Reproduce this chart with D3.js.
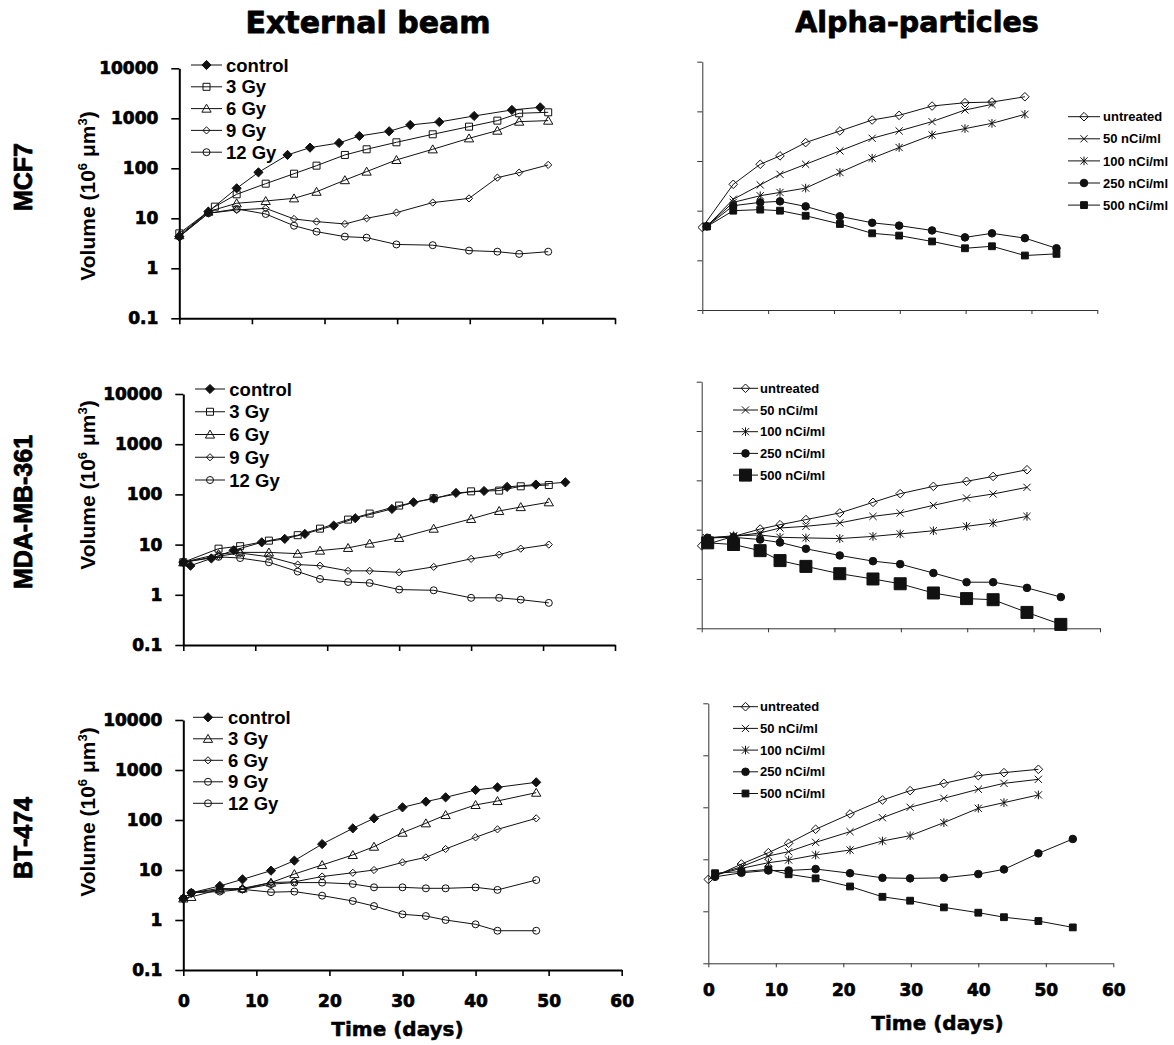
<!DOCTYPE html>
<html><head><meta charset="utf-8">
<script src="https://cdn.jsdelivr.net/npm/d3@7"></script>
<style>body{margin:0;background:#fff}svg{display:block}</style>
</head><body>
<svg id="c" width="1174" height="1045"></svg>
<script>
// ---------- labels ----------
const colTitles = ["External beam", "Alpha-particles"];
const rowLabels = ["MCF7", "MDA-MB-361", "BT-474"];
const yTickValues = [0.1, 1, 10, 100, 1000, 10000];
const yTickLabels = ["0.1", "1", "10", "100", "1000", "10000"];
const xTickValues = [0, 10, 20, 30, 40, 50, 60];
const xTickLabels = ["0", "10", "20", "30", "40", "50", "60"];
const extSeriesNames = ["control", "3 Gy", "6 Gy", "9 Gy", "12 Gy"];
const alphaSeriesNames = ["untreated", "50 nCi/ml", "100 nCi/ml", "250 nCi/ml", "500 nCi/ml"];

// ---------- MCF7, external beam ----------
const mcf7ExtControlDays = [0, 4, 7.9, 10.9, 14.9, 18, 22, 24.8, 28.9, 31.8, 35.8, 40.6, 45.8, 49.7];
const mcf7ExtControl = [4.3, 13.6, 39.8, 83, 185, 259, 321, 443, 550, 736, 845, 1113, 1468, 1660];
const mcf7Ext3GyDays = [0, 4.9, 7.9, 11.9, 15.8, 18.9, 22.8, 25.8, 29.9, 34.9, 39.9, 43.8, 46.8, 50.8];
const mcf7Ext3Gy = [5.0, 17.1, 30.2, 49.3, 78, 113, 185, 240, 331, 479, 681, 898, 1259, 1318];
const mcf7ExtDays = [0, 4, 7.9, 11.9, 15.8, 18.9, 22.8, 25.8, 29.9, 34.9, 39.9, 43.8, 46.8, 50.8];
const mcf7Ext6Gy = [4.6, 13.6, 20, 22.2, 25.1, 34, 58, 86, 147, 240, 398, 567, 858, 898];
const mcf7Ext9Gy = [4.3, 12.6, 14.7, 15.8, 9.7, 8.6, 7.7, 10, 13, 20.6, 25, 65, 82, 117];
const mcf7Ext12Gy = [4.3, 12.6, 15.4, 12.2, 7.1, 5.4, 4.3, 4.1, 3.0, 2.9, 2.26, 2.15, 1.94, 2.15];

// ---------- MCF7, alpha-particles ----------
const mcf7AlphaUntreatedDays = [0, 4.7, 8.8, 11.8, 15.7, 20.9, 25.8, 29.9, 34.9, 39.9, 44, 49];
const mcf7AlphaUntreated = [4.6, 34, 86, 127, 235, 403, 670, 831, 1280, 1493, 1540, 1968];
const mcf7Alpha50Days = [0.7, 4.7, 8.8, 11.8, 15.7, 20.9, 25.8, 29.9, 34.9, 39.9, 44];
const mcf7Alpha50 = [4.85, 17, 33, 54, 86, 160, 287, 403, 621, 1064, 1381];
const mcf7Alpha100Days = [0.7, 4.7, 8.8, 11.8, 15.7, 20.9, 25.8, 29.9, 34.9, 39.9, 44, 49];
const mcf7Alpha100 = [4.85, 14.7, 20, 23.3, 28.5, 58.8, 114, 187, 335, 449, 574, 871];
const mcf7AlphaHighDays = [0.7, 4.7, 8.8, 11.8, 15.7, 20.9, 25.8, 29.9, 34.9, 39.9, 44, 49, 53.8];
const mcf7Alpha250 = [4.85, 12.6, 14.7, 15.4, 12.2, 7.7, 5.7, 5.0, 4.0, 2.9, 3.5, 2.8, 1.75];
const mcf7Alpha500 = [4.8, 10, 10.5, 10, 7.9, 5.4, 3.5, 3.15, 2.4, 1.75, 1.92, 1.25, 1.35];

// ---------- MDA-MB-361, external beam ----------
const mdaExtControlDays = [0, 1, 3.9, 7, 10.9, 14.1, 16.9, 20.9, 23.9, 29, 32, 34.8, 37.9, 41.8, 45, 49, 53.1];
const mdaExtControl = [4.45, 3.8, 5.3, 7.7, 11.1, 13, 16.3, 23.9, 33.5, 51.3, 69.7, 82.4, 107, 117, 141, 157, 174];
const mdaExtDays = [0, 4.9, 7.9, 11.9, 15.9, 19, 22.9, 25.9, 30, 34.8, 40, 43.9, 46.9, 50.8];
const mdaExt3Gy = [4.45, 8.3, 9.3, 12, 15.4, 20.8, 31.5, 41.5, 59.9, 83.8, 115, 119, 145, 154];
const mdaExt6Gy = [4.45, 6.5, 7.0, 7.0, 6.6, 7.6, 8.6, 10.5, 13.6, 20.8, 32.5, 46.9, 56, 69.7];
const mdaExt9Gy = [4.45, 5.9, 6.8, 5.7, 4.0, 3.8, 3.0, 3.0, 2.8, 3.6, 5.2, 6.3, 8.3, 10];
const mdaExt12Gy = [4.45, 5.7, 5.4, 4.45, 2.9, 2.07, 1.8, 1.72, 1.27, 1.23, 0.87, 0.87, 0.8, 0.69];

// ---------- MDA-MB-361, alpha-particles ----------
const mdaAlphaUntreatedDays = [0, 4.8, 8.8, 11.8, 15.7, 20.8, 25.8, 29.9, 34.9, 39.9, 43.9, 49];
const mdaAlphaUntreated = [4.7, 7.3, 10.3, 12.6, 16, 21.8, 35.8, 53.7, 75.5, 95.5, 120, 164];
const mdaAlphaLowDays = [0.75, 4.8, 8.8, 11.8, 15.7, 20.8, 25.8, 29.9, 34.9, 39.9, 43.9, 49];
const mdaAlpha50 = [6.8, 7.3, 8.6, 10.8, 11.7, 13.7, 18.6, 21.8, 31.1, 43.8, 52.9, 72.1];
const mdaAlpha100 = [6.8, 7.5, 7.8, 7.0, 6.8, 6.6, 7.3, 8.2, 9.5, 11.7, 13.7, 18.6];
const mdaAlphaHighDays = [0.9, 4.8, 8.8, 11.8, 15.7, 20.8, 25.8, 29.9, 34.9, 39.9, 43.9, 49, 54.1];
const mdaAlpha250 = [6.8, 7.0, 6.3, 5.5, 4.1, 3.0, 2.3, 2.0, 1.32, 0.86, 0.86, 0.66, 0.43];
const mdaAlpha500 = [5.4, 5.0, 3.75, 2.36, 1.8, 1.28, 1.0, 0.8, 0.52, 0.40, 0.38, 0.21, 0.12];

// ---------- BT-474, external beam ----------
const btExtDays = [0, 1.1, 5.0, 8.1, 12.0, 15.2, 19.0, 23.2, 26.1, 30.0, 33.2, 35.9, 40.0, 43.0, 48.3];
const btExtControl = [2.7, 3.5, 4.8, 6.5, 9.7, 15.4, 33, 68, 108, 179, 233, 284, 398, 450, 567];
const btExt3Gy = [2.7, 2.9, 4.1, 4.3, 5.6, 8.3, 12.6, 20, 29.3, 55.8, 86, 126, 200, 240, 352];
const btExt6Gy = [2.7, 3.5, 4.3, 4.1, 5.6, 5.8, 7.4, 8.8, 10, 14.2, 17.9, 26.3, 45, 65, 108];
const btExt9Gy = [2.7, 3.5, 3.7, 4.1, 5.2, 5.6, 5.6, 5.25, 4.5, 4.5, 4.3, 4.3, 4.5, 4.0, 6.3];
const btExt12Gy = [2.7, 3.5, 4.0, 4.1, 3.6, 3.7, 3.07, 2.4, 1.9, 1.3, 1.2, 1.0, 0.82, 0.61, 0.61];

// ---------- BT-474, alpha-particles ----------
const btAlphaUntreatedDays = [0, 4.9, 8.9, 11.9, 15.9, 21, 25.8, 29.9, 34.9, 40, 43.8, 48.9];
const btAlphaUntreated = [4.1, 8.1, 13.4, 20.3, 37.8, 74.5, 138, 209, 289, 406, 464, 538];
const btAlphaLowDays = [1, 4.9, 8.9, 11.9, 15.9, 21, 25.8, 29.9, 34.9, 40, 43.8, 48.9];
const btAlpha50 = [5.0, 7.2, 11.6, 14, 21.2, 34, 63, 100, 149, 222, 289, 345];
const btAlpha100 = [5.0, 6.7, 8.6, 9.7, 12.1, 15.1, 22.5, 28.5, 50.7, 95.7, 123, 173];
const btAlphaHighDays = [1, 4.9, 8.9, 11.9, 15.9, 21, 25.8, 29.9, 34.9, 40, 43.8, 48.9, 54];
const btAlpha250 = [4.6, 5.5, 6.1, 6.1, 6.5, 5.4, 4.4, 4.3, 4.4, 5.2, 6.4, 13, 24.6];
const btAlpha500 = [5.4, 5.8, 6.4, 5.15, 4.3, 3.0, 1.9, 1.6, 1.19, 0.94, 0.77, 0.65, 0.49];

// ---------- drawing ----------
const svg = d3.select("#c");
const INK = "#111";
const BOLD = "'DejaVu Sans', sans-serif";
const ARIAL = "'Liberation Sans', Arial, sans-serif";

const mFilledDiamond = {shape: "diamond", r: 4.6, fill: true};
const mSquare = {shape: "square", r: 3.5, fill: false};
const mTriangle = {shape: "triangle", r: 4.2, fill: false};
const mSmallDiamond = {shape: "diamond", r: 3.6, fill: false};
const mCircle = {shape: "circle", r: 3.5, fill: false};
const mOpenDiamond = {shape: "diamond", r: 4.3, fill: false};
const mX = {shape: "x", r: 3.6, fill: false};
const mStar = {shape: "star", r: 3.6, fill: false};
const mDot = {shape: "circle", r: 3.8, fill: true};
const mSq = {shape: "square", r: 3.4, fill: true};
const mBigSq = {shape: "square", r: 6, fill: true};

function markerPath(s) {
  const r = s.r;
  switch (s.shape) {
    case "diamond": return `M0,${-r}L${r},0L0,${r}L${-r},0Z`;
    case "square": return `M${-r},${-r}H${r}V${r}H${-r}Z`;
    case "triangle": return `M0,${-r * 1.05}L${r * 1.1},${r * 0.85}L${-r * 1.1},${r * 0.85}Z`;
    case "circle": return `M${r},0A${r},${r} 0 1,1 ${-r},0A${r},${r} 0 1,1 ${r},0Z`;
    case "x": return `M${-r},${-r}L${r},${r}M${r},${-r}L${-r},${r}`;
    case "star": return `M${-r},${-r}L${r},${r}M${r},${-r}L${-r},${r}M0,${-r * 1.2}V${r * 1.2}`;
  }
}
function drawMarker(g, s, cx, cy) {
  g.append("path").attr("d", markerPath(s)).attr("transform", `translate(${cx},${cy})`)
    .attr("fill", s.fill ? INK : "none").attr("stroke", INK).attr("stroke-width", 1);
}
function heavy(sel, w) {
  return sel.attr("stroke", "#000").attr("stroke-width", w).attr("stroke-linejoin", "round");
}

function drawPanel(p) {
  const x = d3.scaleLinear().domain([0, 60]).range([p.x0, p.x1]);
  const y = d3.scaleLog().domain([0.1, 10000]).range([p.yb, p.yt]);
  const g = svg.append("g");
  const aw = p.heavy ? 2 : 1;
  const col = p.heavy ? "#000" : "#333";

  const yAxis = d3.axisLeft(y).tickValues(yTickValues).tickSizeInner(p.heavy ? 8 : 5).tickSizeOuter(0)
    .tickPadding(p.heavy ? 13 : 3).tickFormat((d, i) => p.ylab ? yTickLabels[i] : "");
  const ya = g.append("g").attr("transform", `translate(${p.x0},0)`).call(yAxis);
  const xAxis = d3.axisBottom(x).tickValues(xTickValues).tickSizeInner(p.heavy ? 6 : 4).tickSizeOuter(0)
    .tickPadding(p.heavy ? 19 : 17).tickFormat((d, i) => p.xlab ? xTickLabels[i] : "");
  const xa = g.append("g").attr("transform", `translate(0,${p.yb})`).call(xAxis);
  [ya, xa].forEach(a => {
    a.select(".domain").attr("stroke", col).attr("stroke-width", aw);
    a.selectAll(".tick line").attr("stroke", col).attr("stroke-width", p.heavy ? 1.6 : 1);
    heavy(a.selectAll("text").attr("font-family", BOLD).attr("font-weight", "bold")
      .attr("font-size", 17).attr("fill", "#000"), 0.7);
  });

  const line = d3.line().x(d => x(d[0])).y(d => y(d[1]));
  p.series.forEach(s => {
    const pts = s.days.map((d, i) => [d, s.vals[i]]);
    g.append("path").attr("d", line(pts)).attr("fill", "none").attr("stroke", INK).attr("stroke-width", 1);
  });
  p.series.forEach(s => {
    s.days.forEach((d, i) => drawMarker(g, s.marker, x(d), y(s.vals[i])));
  });

  const L = p.legend;
  p.series.forEach((s, i) => {
    const ly = L.y + i * L.dy;
    g.append("line").attr("x1", L.x1).attr("x2", L.x2).attr("y1", ly).attr("y2", ly)
      .attr("stroke", INK).attr("stroke-width", 1);
    drawMarker(g, s.marker, (L.x1 + L.x2) / 2, ly);
    g.append("text").attr("x", L.tx).attr("y", ly + L.fs * 0.36).text(s.name)
      .attr("font-family", L.font).attr("font-weight", "bold").attr("font-size", L.fs).attr("fill", "#000");
  });
}

const leftFont = ARIAL, rightFont = ARIAL;
const panels = [
  {x0: 179.3, x1: 615, yt: 68.3, yb: 318.3, heavy: true, ylab: true, xlab: false,
   legend: {x1: 191, x2: 222, tx: 226, y: 65, dy: 21.8, fs: 18.5, font: leftFont},
   series: [
     {name: extSeriesNames[0], days: mcf7ExtControlDays, vals: mcf7ExtControl, marker: mFilledDiamond},
     {name: extSeriesNames[1], days: mcf7Ext3GyDays, vals: mcf7Ext3Gy, marker: mSquare},
     {name: extSeriesNames[2], days: mcf7ExtDays, vals: mcf7Ext6Gy, marker: mTriangle},
     {name: extSeriesNames[3], days: mcf7ExtDays, vals: mcf7Ext9Gy, marker: mSmallDiamond},
     {name: extSeriesNames[4], days: mcf7ExtDays, vals: mcf7Ext12Gy, marker: mCircle}]},
  {x0: 702.3, x1: 1097.3, yt: 61.7, yb: 310, heavy: false, ylab: false, xlab: false,
   legend: {x1: 1068, x2: 1100, tx: 1103, y: 116.7, dy: 22.1, fs: 13, font: rightFont},
   series: [
     {name: alphaSeriesNames[0], days: mcf7AlphaUntreatedDays, vals: mcf7AlphaUntreated, marker: mOpenDiamond},
     {name: alphaSeriesNames[1], days: mcf7Alpha50Days, vals: mcf7Alpha50, marker: mX},
     {name: alphaSeriesNames[2], days: mcf7Alpha100Days, vals: mcf7Alpha100, marker: mStar},
     {name: alphaSeriesNames[3], days: mcf7AlphaHighDays, vals: mcf7Alpha250, marker: mDot},
     {name: alphaSeriesNames[4], days: mcf7AlphaHighDays, vals: mcf7Alpha500, marker: mSq}]},
  {x0: 183.3, x1: 615, yt: 394, yb: 645, heavy: true, ylab: true, xlab: false,
   legend: {x1: 195, x2: 225, tx: 229.3, y: 389, dy: 22.75, fs: 18.5, font: leftFont},
   series: [
     {name: extSeriesNames[0], days: mdaExtControlDays, vals: mdaExtControl, marker: mFilledDiamond},
     {name: extSeriesNames[1], days: mdaExtDays, vals: mdaExt3Gy, marker: mSquare},
     {name: extSeriesNames[2], days: mdaExtDays, vals: mdaExt6Gy, marker: mTriangle},
     {name: extSeriesNames[3], days: mdaExtDays, vals: mdaExt9Gy, marker: mSmallDiamond},
     {name: extSeriesNames[4], days: mdaExtDays, vals: mdaExt12Gy, marker: mCircle}]},
  {x0: 701.7, x1: 1100, yt: 381.7, yb: 628.3, heavy: false, ylab: false, xlab: false,
   legend: {x1: 733, x2: 758, tx: 760, y: 388.3, dy: 21.7, fs: 13, font: rightFont},
   series: [
     {name: alphaSeriesNames[0], days: mdaAlphaUntreatedDays, vals: mdaAlphaUntreated, marker: mOpenDiamond},
     {name: alphaSeriesNames[1], days: mdaAlphaLowDays, vals: mdaAlpha50, marker: mX},
     {name: alphaSeriesNames[2], days: mdaAlphaLowDays, vals: mdaAlpha100, marker: mStar},
     {name: alphaSeriesNames[3], days: mdaAlphaHighDays, vals: mdaAlpha250, marker: mDot},
     {name: alphaSeriesNames[4], days: mdaAlphaHighDays, vals: mdaAlpha500, marker: mBigSq}]},
  {x0: 183.3, x1: 621.7, yt: 720, yb: 970, heavy: true, ylab: true, xlab: true,
   legend: {x1: 193, x2: 223, tx: 228, y: 717.3, dy: 21.5, fs: 18.5, font: leftFont},
   series: [
     {name: extSeriesNames[0], days: btExtDays, vals: btExtControl, marker: mFilledDiamond},
     {name: extSeriesNames[1], days: btExtDays, vals: btExt3Gy, marker: mTriangle},
     {name: extSeriesNames[2], days: btExtDays, vals: btExt6Gy, marker: mSmallDiamond},
     {name: extSeriesNames[3], days: btExtDays, vals: btExt9Gy, marker: mCircle},
     {name: extSeriesNames[4], days: btExtDays, vals: btExt12Gy, marker: mCircle}]},
  {x0: 708.3, x1: 1113.3, yt: 703.3, yb: 963.3, heavy: false, ylab: false, xlab: true,
   legend: {x1: 733, x2: 758, tx: 760, y: 706.7, dy: 21.7, fs: 13, font: rightFont},
   series: [
     {name: alphaSeriesNames[0], days: btAlphaUntreatedDays, vals: btAlphaUntreated, marker: mOpenDiamond},
     {name: alphaSeriesNames[1], days: btAlphaLowDays, vals: btAlpha50, marker: mX},
     {name: alphaSeriesNames[2], days: btAlphaLowDays, vals: btAlpha100, marker: mStar},
     {name: alphaSeriesNames[3], days: btAlphaHighDays, vals: btAlpha250, marker: mDot},
     {name: alphaSeriesNames[4], days: btAlphaHighDays, vals: btAlpha500, marker: mSq}]}
];
panels.forEach(drawPanel);

// column titles
[[368, 33, 30], [917, 32, 28.5]].forEach((pos, i) => {
  heavy(svg.append("text").attr("x", pos[0]).attr("y", pos[1]).attr("text-anchor", "middle")
    .attr("font-family", BOLD).attr("font-weight", "bold").attr("font-size", pos[2])
    .text(colTitles[i]), 0.8);
});

// row labels and y-axis titles
const rowCenters = [177, 512, 838];
const ytitleCenters = [196, 485, 812];
rowLabels.forEach((lab, i) => {
  heavy(svg.append("text").attr("transform", `translate(32,${rowCenters[i]}) rotate(-90)`)
    .attr("text-anchor", "middle").attr("font-family", ARIAL).attr("font-weight", "bold")
    .attr("font-size", 25).text(lab), 0.8);
  const t = svg.append("text").attr("transform", `translate(95,${ytitleCenters[i]}) rotate(-90)`)
    .attr("text-anchor", "middle").attr("font-family", ARIAL).attr("font-weight", "bold")
    .attr("font-size", 21);
  t.append("tspan").text("Volume (10");
  t.append("tspan").attr("dy", -8).attr("font-size", 13).text("6");
  t.append("tspan").attr("dy", 8).text(" \u03bcm");
  t.append("tspan").attr("dy", -8).attr("font-size", 13).text("3");
  t.append("tspan").attr("dy", 8).text(")");
});

// x-axis titles
[[397.5, 1036], [937.5, 1030]].forEach(pos => {
  heavy(svg.append("text").attr("x", pos[0]).attr("y", pos[1]).attr("text-anchor", "middle")
    .attr("font-family", BOLD).attr("font-weight", "bold").attr("font-size", 20).text("Time (days)"), 0.5);
});
</script>
</body></html>
